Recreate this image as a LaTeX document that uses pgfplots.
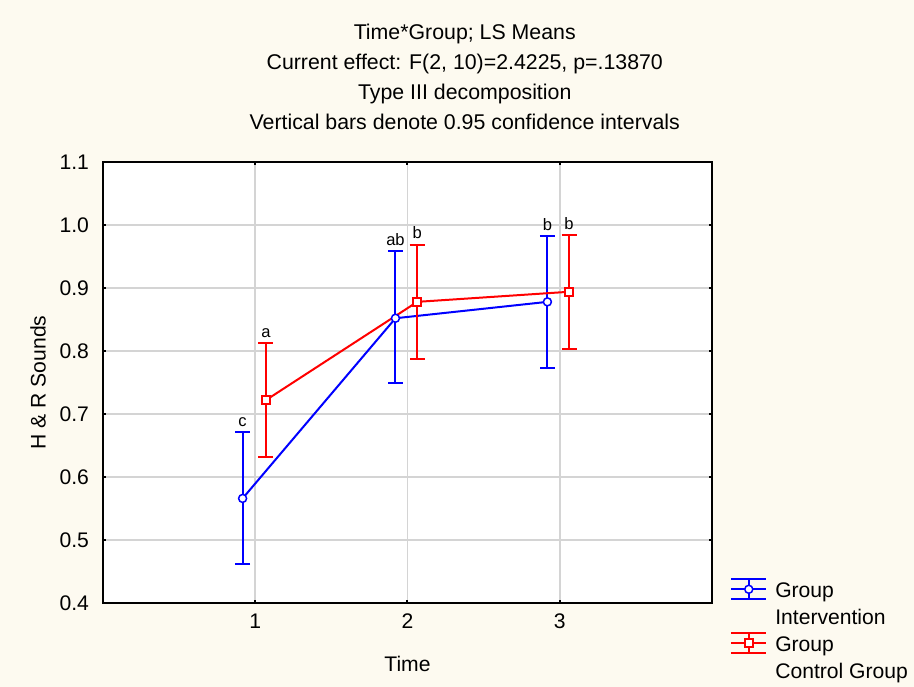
\documentclass[border=0pt]{standalone}
\usepackage{fontspec}
\setmainfont{Liberation Sans}
\usepackage{pgfplots}
\usepackage{pgfplotstable}
\pgfplotsset{compat=1.18}

\definecolor{bgcream}{RGB}{253,250,240}
\definecolor{gridgray}{RGB}{212,212,212}
\newcommand\chartfont{\fontsize{10.6}{12.7}\selectfont}

% x  mean  lower  upper  letter
\pgfplotstableread{
x mean lo hi lab
0.917 0.566 0.462 0.671 c
1.921 0.852 0.749 0.958 ab
2.919 0.878 0.773 0.982 b
}\intervention
\pgfplotstableread{
x mean lo hi lab
1.070 0.722 0.632 0.813 a
2.064 0.878 0.788 0.969 b
3.061 0.894 0.803 0.984 b
}\control

\begin{document}
\begin{tikzpicture}
\fill[bgcream] (-51.5bp,-42bp) rectangle (405.5bp,301.5bp);
\useasboundingbox (-51.5bp,-42bp) rectangle (405.5bp,301.5bp);
\begin{axis}[
    at={(0,0)}, anchor=south west,
    scale only axis,
    width=304.5bp, height=220.5bp,
    xmin=0, xmax=4, ymin=0.4, ymax=1.1,
    xtick={1,2,3},
    ytick={0.4,0.5,0.6,0.7,0.8,0.9,1.0,1.1},
    /pgf/number format/assume math mode=true,
    yticklabel style={/pgf/number format/fixed, /pgf/number format/fixed zerofill,
        /pgf/number format/precision=1, xshift=-3.5bp},
    ticklabel style={font=\chartfont},
    xticklabel style={yshift=-2bp},
    tick align=inside, major tick length=1.5bp,
    tick style={black, line width=1bp},
    axis line style={black, line width=1bp},
    axis background/.style={fill=white},
    grid=major,
    major grid style={gridgray, line width=0.75bp},
    xlabel={Time},
    ylabel={H \& R Sounds},
    label style={font=\chartfont},
    xlabel style={at={(axis description cs:0.5,-0.1383)}, anchor=center},
    ylabel style={at={(axis description cs:-0.1067,0.5)}, anchor=center},
    title={Time*Group; LS Means\\Current effect: F(2, 10)=2.4225, p=.13870\\Type III decomposition\\Vertical bars denote 0.95 confidence intervals},
    title style={at={(0.594,1)}, anchor=south, align=center, inner sep=0pt,
        yshift=10bp, font=\fontsize{10.7}{15}\selectfont},
    legend style={at={(1.031,0.047)}, anchor=north west, draw=none, fill=none,
        inner sep=0pt, row sep=3.8bp, column sep=4.5bp,
        font=\chartfont,
        nodes={inner sep=0pt, text height=7.6bp, text depth=2bp}},
    legend cell align=left,
]
\addplot[blue, line width=1bp, mark=*, mark size=2bp, forget plot,
    mark options={fill=white, line width=0.75bp},
    error bars/.cd, y dir=both, y explicit,
    error bar style={line width=1bp, blue},
    error mark options={rotate=90, line width=1bp, mark size=3.75bp, blue}]
    table[x=x, y=mean,
          y error plus expr=\thisrow{hi}-\thisrow{mean},
          y error minus expr=\thisrow{mean}-\thisrow{lo}] {\intervention};
\addplot[red, line width=1bp, mark=square*, mark size=2bp, forget plot,
    mark options={fill=white, line width=0.75bp},
    error bars/.cd, y dir=both, y explicit,
    error bar style={line width=1bp, red},
    error mark options={rotate=90, line width=1bp, mark size=3.75bp, red}]
    table[x=x, y=mean,
          y error plus expr=\thisrow{hi}-\thisrow{mean},
          y error minus expr=\thisrow{mean}-\thisrow{lo}] {\control};
% letters over the upper ends of the bars
\addplot[draw=none, mark=none, forget plot, nodes near coords,
    point meta=explicit symbolic,
    nodes near coords style={font=\fontsize{8.3}{9}\selectfont, anchor=south,
        inner sep=2.5bp, text=black}]
    table[x=x, y=hi, meta=lab] {\intervention};
\addplot[draw=none, mark=none, forget plot, nodes near coords,
    point meta=explicit symbolic,
    nodes near coords style={font=\fontsize{8.3}{9}\selectfont, anchor=south,
        inner sep=2.5bp, text=black}]
    table[x=x, y=hi, meta=lab] {\control};
\addlegendimage{legend image code/.code={
    \draw[overlay, blue, line width=1bp] (0bp,1.5bp) -- (17.5bp,1.5bp)
        (0bp,6.5bp) -- (17.5bp,6.5bp)
        (0bp,-3.5bp) -- (17.5bp,-3.5bp)
        (8.75bp,-3.5bp) -- (8.75bp,6.5bp);
    \draw[overlay, blue, line width=0.75bp, fill=white] (8.75bp,1.5bp) circle (2bp);
    \path[draw=none, fill=none] (0bp,0bp) -- (17.5bp,0bp);}}
\addlegendentry{Group}
\addlegendimage{empty legend}
\addlegendentry{Intervention}
\addlegendimage{legend image code/.code={
    \draw[overlay, red, line width=1bp] (0bp,1.5bp) -- (17.5bp,1.5bp)
        (0bp,6.5bp) -- (17.5bp,6.5bp)
        (0bp,-3.5bp) -- (17.5bp,-3.5bp)
        (8.75bp,-3.5bp) -- (8.75bp,6.5bp);
    \draw[overlay, red, line width=0.75bp, fill=white] (6.75bp,-0.5bp) rectangle (10.75bp,3.5bp);
    \path[draw=none, fill=none] (0bp,0bp) -- (17.5bp,0bp);}}
\addlegendentry{Group}
\addlegendimage{empty legend}
\addlegendentry{Control Group}
\end{axis}
\end{tikzpicture}
\end{document}
